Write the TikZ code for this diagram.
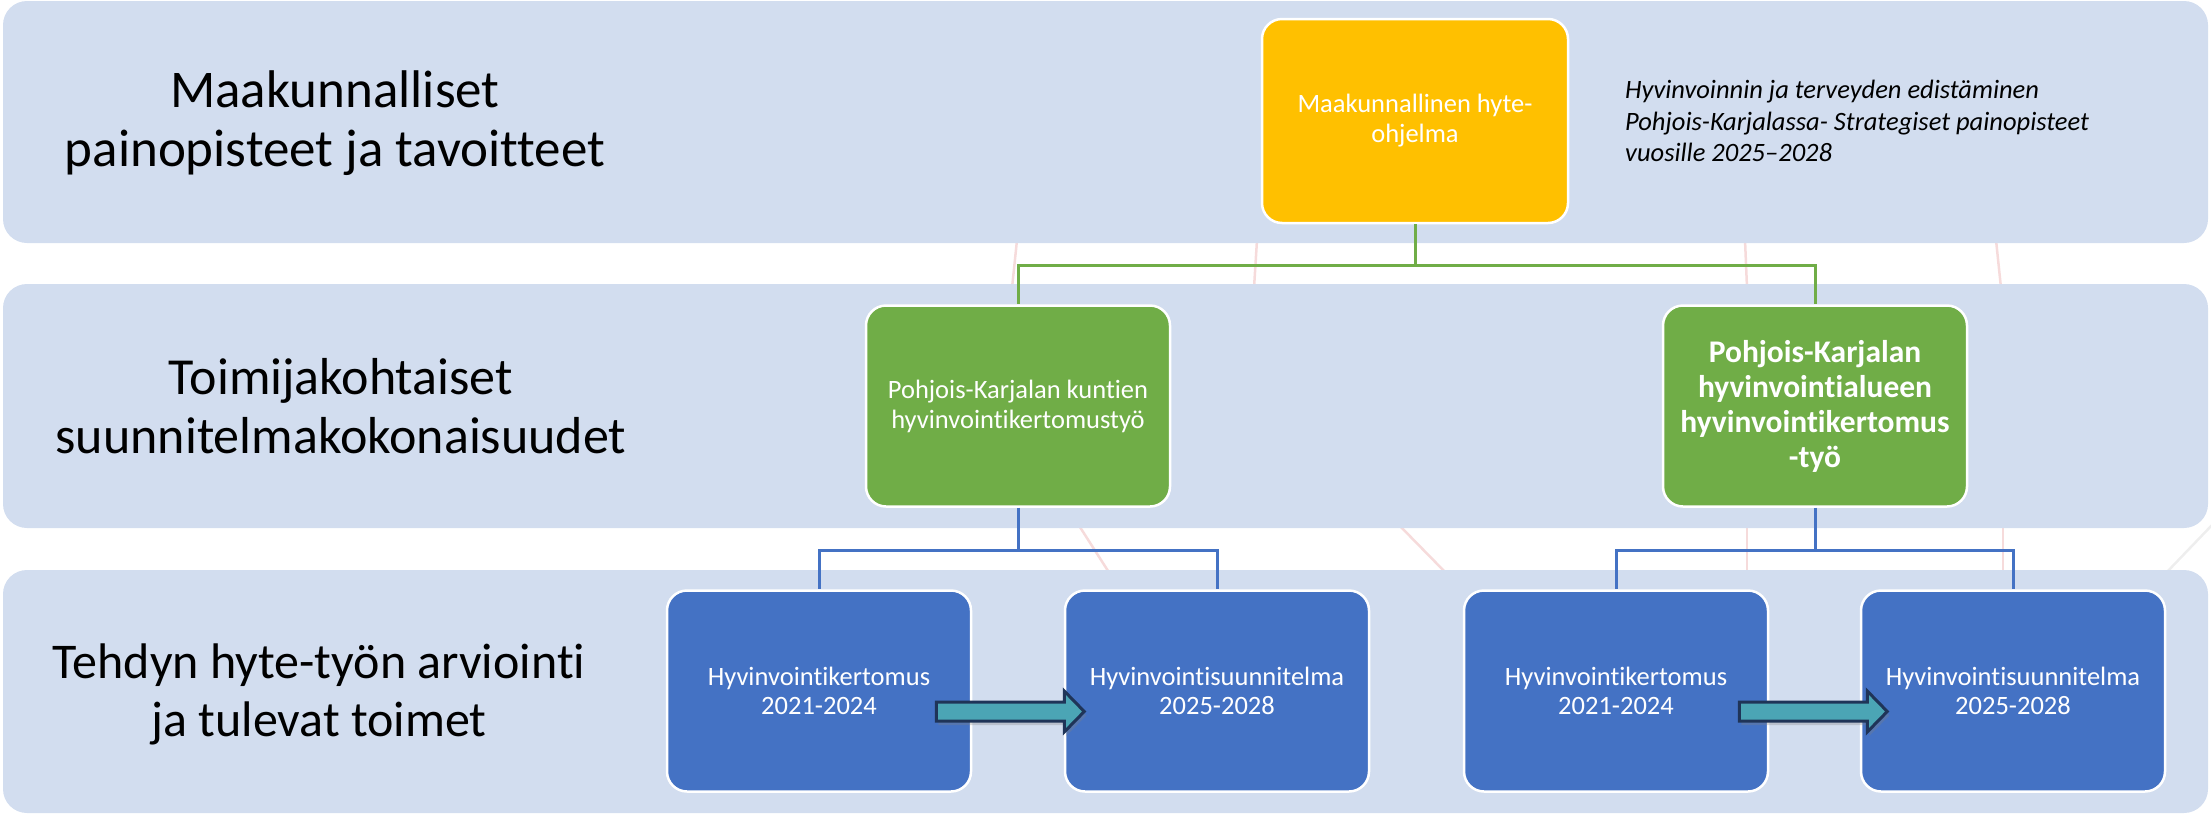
\documentclass[tikz,border=0pt]{standalone}
\usepackage{fontspec}
\setmainfont{Carlito}[Ligatures={NoCommon}]
\usepackage{tikz}
\usetikzlibrary{positioning, shadows}

\definecolor{bandblue}{HTML}{D2DDEF}
\definecolor{hyteyellow}{HTML}{FFC000}
\definecolor{actorgreen}{HTML}{70AD47}
\definecolor{reportblue}{HTML}{4472C4}
\definecolor{arrowteal}{HTML}{4BA5B5}
\definecolor{arrownavy}{HTML}{1F3458}
\definecolor{bgpink}{HTML}{F6DBDB}
\definecolor{bggrey}{HTML}{EEEEEE}

\begin{document}
\begin{tikzpicture}[x=1pt, y=-1pt,
    band/.style={fill=bandblue, rounded corners=24pt},
    lanelabel/.style={align=center, inner sep=0pt, font=\fontsize{53}{59}\selectfont},
    box/.style={draw=white, line width=2.5pt, rounded corners=20pt, text=white, align=center,
        minimum width=304pt, minimum height=201pt, font=\fontsize{26.5}{30}\selectfont},
    hyteprog/.style={box, fill=hyteyellow, minimum width=306pt, minimum height=204pt},
    actor/.style={box, fill=actorgreen},
    report/.style={box, fill=reportblue, font=\fontsize{26.5}{29.5}\selectfont},
    greenline/.style={draw=actorgreen, line width=3pt},
    blueline/.style={draw=reportblue, line width=3pt},
    flowarrow/.style={fill=arrowteal, draw=arrownavy, line width=3pt, line join=miter,
        drop shadow={opacity=0.3, shadow xshift=2pt, shadow yshift=-4pt}},
    bgline/.style={draw=bgpink, line width=2.5pt}]

    \useasboundingbox (0,0) rectangle (2211,815);

    % faint background lines
    \draw[bgline] (1017,240) -- (1012,288);
    \draw[bgline] (1257,240) -- (1254,288);
    \draw[bgline] (1745,240) -- (1747,288);
    \draw[bgline] (1996,240) -- (2001,288);
    \draw[bgline] (1078,524) -- (1110,574);
    \draw[bgline] (1398,524) -- (1447,574);
    \draw[bgline] (1747,524) -- (1747,574);
    \draw[bgline] (2003,524) -- (2003,574);
    \draw[bgline, draw=bggrey] (2213,524) -- (2165,574);

    % lanes
    \fill[band] (3,1) rectangle (2208,243);
    \fill[band] (3,284) rectangle (2208,528);
    \fill[band] (3,570) rectangle (2208,813);

    \node[lanelabel] (lane1) at (335,123) {Maakunnalliset\\painopisteet ja tavoitteet};
    \node[lanelabel, font=\fontsize{52}{59}\selectfont] (lane2) at (341,406) {Toimijakohtaiset\\suunnitelmakokonaisuudet};
    \node[lanelabel, font=\fontsize{50}{58}\selectfont] (lane3) at (319,694) {Tehdyn hyte-työn arviointi\\ja tulevat toimet};

    % boxes
    \node[hyteprog] (hyte) at (1415,121) {Maakunnallinen hyte-\\ohjelma};
    \node[anchor=west, inner sep=0pt, align=left, font=\itshape\fontsize{26.5}{31.5}\selectfont] (strategy) at (1625,121)
        {Hyvinvoinnin ja terveyden edistäminen\\Pohjois-Karjalassa- Strategiset painopisteet\\vuosille 2025--2028};

    \node[actor] (kunnat) at (1018,406) {Pohjois-Karjalan kuntien\\hyvinvointikertomustyö};
    \node[actor, font=\bfseries\fontsize{31.5}{35}\selectfont] (alue) at (1815,406)
        {Pohjois-Karjalan\\hyvinvointialueen\\hyvinvointikertomus\\-työ};

    \node[report] (kert1) at (819,691) {Hyvinvointikertomus\\2021-2024};
    \node[report] (suun1) at (1217,691) {Hyvinvointisuunnitelma\\2025-2028};
    \node[report] (kert2) at (1616,691) {Hyvinvointikertomus\\2021-2024};
    \node[report] (suun2) at (2013,691) {Hyvinvointisuunnitelma\\2025-2028};

    % connectors
    \draw[greenline] (hyte.south) -- ++(0,41) -| (kunnat.north);
    \draw[greenline] (hyte.south) -- ++(0,41) -| (alue.north);
    \draw[blueline] (kunnat.south) -- ++(0,43) -| (kert1.north);
    \draw[blueline] (kunnat.south) -- ++(0,43) -| (suun1.north);
    \draw[blueline] (alue.south) -- ++(0,43) -| (kert2.north);
    \draw[blueline] (alue.south) -- ++(0,43) -| (suun2.north);

    % block arrows
    \draw[flowarrow] ([xshift=-36pt,yshift=-11pt]kert1.east) -- ++(128,0) -- ++(0,-11)
        -- ++(20,20.5) -- ++(-20,20.5) -- ++(0,-11) -- ++(-128,0) -- cycle;
    \draw[flowarrow] ([xshift=-30pt,yshift=-11pt]kert2.east) -- ++(128,0) -- ++(0,-11)
        -- ++(20,20.5) -- ++(-20,20.5) -- ++(0,-11) -- ++(-128,0) -- cycle;
\end{tikzpicture}
\end{document}
